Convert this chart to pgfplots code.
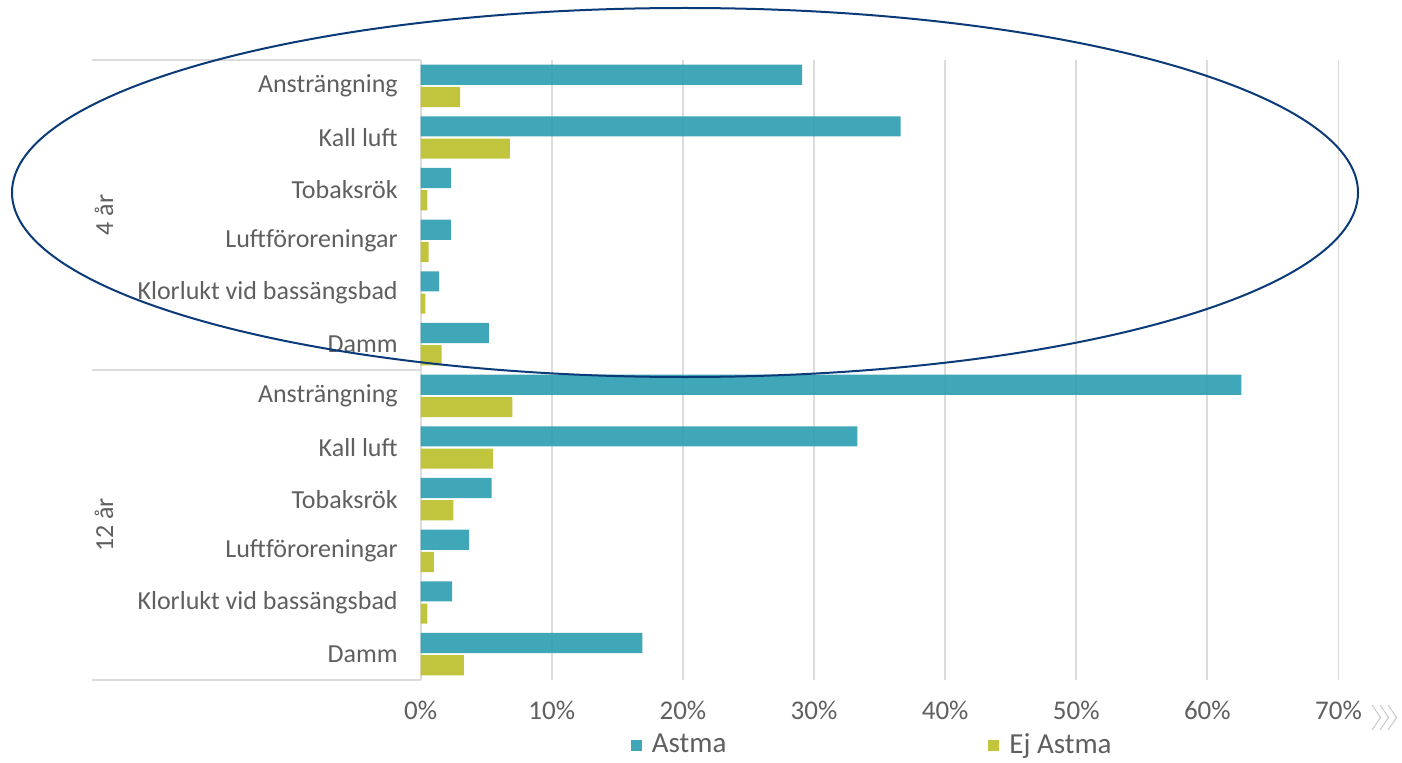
\documentclass[border=0pt]{standalone}
\usepackage{pgfplots}
\pgfplotsset{compat=1.18}
\usepackage{fontspec}
\setmainfont{Carlito}
\definecolor{astma}{HTML}{35A2B4}
\definecolor{ejastma}{HTML}{BDC233}
\definecolor{gridc}{HTML}{DCDCDC}
\definecolor{txt}{HTML}{5F5F5F}
\definecolor{ell}{HTML}{0B3A78}
\definecolor{chev}{HTML}{C8C8C8}
\begin{document}
\begin{tikzpicture}[x=1pt,y=1pt]
\useasboundingbox (0,0) rectangle (701,381);
\begin{axis}[
  at={(210.35pt,41pt)}, anchor=south west,
  scale only axis, width=458.9pt, height=310pt,
  xmin=0, xmax=70, ymin=-0.5, ymax=11.5, y dir=reverse,
  clip=false,
  axis line style={draw=none},
  major tick length=0pt,
  xmajorgrids, grid style={gridc, line width=0.9pt},
  xtick={0,10,20,30,40,50,60,70},
  xticklabels={0\%,10\%,20\%,30\%,40\%,50\%,60\%,70\%},
  ytick={0,1,2,3,4,5,6,7,8,9,10,11},
  yticklabels={Ansträngning,Kall luft,Tobaksrök,Luftföroreningar,Klorlukt vid bassängsbad,Damm,Ansträngning,Kall luft,Tobaksrök,Luftföroreningar,Klorlukt vid bassängsbad,Damm},
  tick label style={font=\fontsize{13}{15}\selectfont, text=txt, inner sep=0pt},
  yticklabel style={anchor=east, xshift=-11.3pt},
  xticklabel style={anchor=north, yshift=-10.5pt, font=\fontsize{13.5}{15}\selectfont},
  /pgf/number format/assume math mode=true,
  legend columns=2,
  legend style={draw=none, fill=none, inner sep=0pt, at={(0.2285,-0.105)}, anchor=west,
    font=\fontsize{14.5}{16}\selectfont, text=txt,
    /tikz/every even column/.append style={column sep=129pt},
    /tikz/every odd column/.append style={column sep=3pt}},
  legend image code/.code={\fill[#1] (0pt,-2.8pt) rectangle (5.5pt,2.8pt);},
]
\addplot[xbar, bar width=0.39, bar shift=-0.215, fill=astma, draw=none, fill opacity=0.95] coordinates {
  (29.1,0) (36.6,1) (2.3,2) (2.3,3) (1.4,4) (5.2,5)
  (62.6,6) (33.3,7) (5.4,8) (3.7,9) (2.4,10) (16.9,11)};
\addlegendentry{Astma}
\addplot[xbar, bar width=0.39, bar shift=0.215, fill=ejastma, draw=none, fill opacity=0.95] coordinates {
  (3.0,0) (6.8,1) (0.5,2) (0.6,3) (0.35,4) (1.6,5)
  (7.0,6) (5.5,7) (2.5,8) (1.0,9) (0.5,10) (3.3,11)};
\addlegendentry{Ej Astma}
\end{axis}
% category group separators
\draw[gridc, line width=0.9pt] (46,351) -- (210.35,351);
\draw[gridc, line width=0.9pt] (46,196) -- (210.35,196);
\draw[gridc, line width=0.9pt] (46,41) -- (210.35,41);
% group labels
\node[rotate=90, text=txt, font=\fontsize{13}{15}\selectfont, inner sep=0pt] at (52,273.5) {4 år};
\node[rotate=90, text=txt, font=\fontsize{13}{15}\selectfont, inner sep=0pt] at (52,118.5) {12 år};
% chevrons
\foreach \cx in {686,690,694} {
  \draw[chev, line width=0.5pt] (\cx,28.5) -- (\cx+4.3,22.25) -- (\cx,16);
}
% annotation ellipse
\draw[ell, line width=1pt] (342.5,284.75) ellipse [x radius=336.5, y radius=92.25];
\end{tikzpicture}
\end{document}
